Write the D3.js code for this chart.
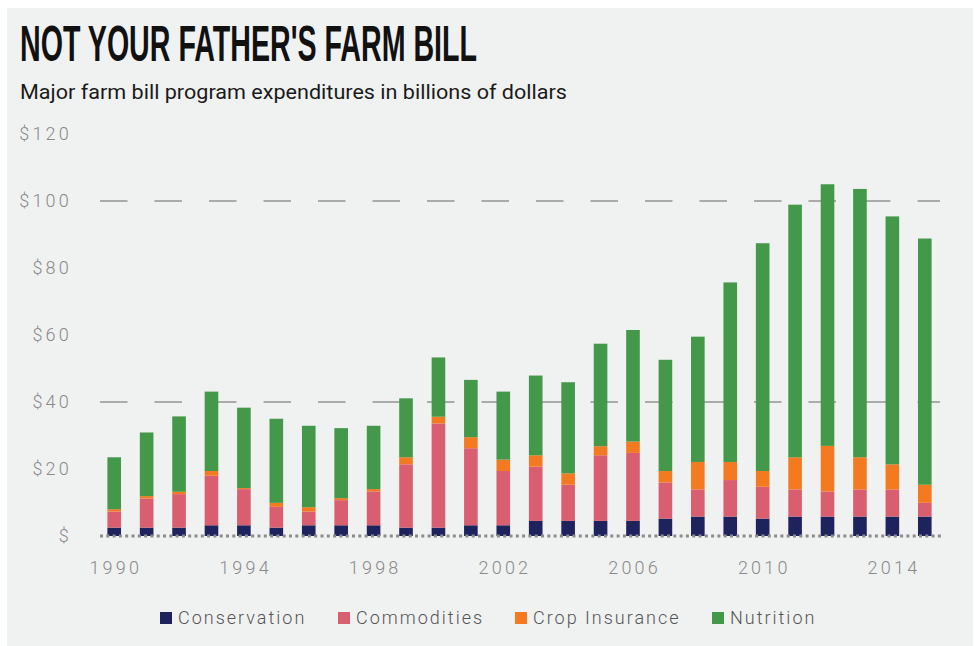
<!DOCTYPE html>
<html>
<head>
<meta charset="utf-8">
<script src="https://cdn.jsdelivr.net/npm/d3@7"></script>
<style>
  html, body { margin: 0; padding: 0; background: #ffffff; }
  svg { display: block; }
</style>
</head>
<body>
<svg id="chart" width="975" height="646"></svg>
<script>
// Farm bill program spending, billions of dollars, by fiscal year
const years = d3.range(1990, 2016);
const conservation  = [2.5, 2.5, 2.5, 3.2, 3.2, 2.5, 3.2, 3.2, 3.2, 2.5, 2.5, 3.2, 3.2, 4.5, 4.5, 4.5, 4.5, 5.2, 5.8, 5.8, 5.2, 5.8, 5.8, 5.8, 5.8, 5.8];
const commodities   = [4.8, 8.7, 10.0, 14.8, 10.8, 6.2, 4.1, 7.5, 10.1, 18.9, 31.1, 23.0, 16.2, 16.2, 10.8, 19.6, 20.3, 10.8, 8.1, 10.9, 9.5, 8.1, 7.5, 8.1, 8.1, 4.1];
const cropInsurance = [0.7, 0.7, 0.7, 1.4, 0.3, 1.2, 1.3, 0.6, 0.7, 2.1, 2.0, 3.3, 3.4, 3.4, 3.4, 2.7, 3.4, 3.4, 8.2, 5.4, 4.7, 9.6, 13.6, 9.6, 7.5, 5.4];
const nutrition     = [15.5, 19.0, 22.5, 23.7, 24.0, 25.1, 24.3, 20.9, 18.9, 17.6, 17.7, 17.1, 20.3, 23.8, 27.2, 30.6, 33.3, 33.2, 37.4, 53.6, 68.0, 75.4, 78.1, 80.1, 74.0, 73.5];

const seriesNames = ["Conservation", "Commodities", "Crop Insurance", "Nutrition"];
const seriesKeys  = ["conservation", "commodities", "cropInsurance", "nutrition"];
const seriesColors = ["#1f235d", "#d95e6f", "#f47a22", "#43984a"];

const yTicks = [0, 20, 40, 60, 80, 100, 120];
const yTickLabels = ["$", "$20", "$40", "$60", "$80", "$100", "$120"];
const gridValues = [40, 100];
const xTickYears = [1990, 1994, 1998, 2002, 2006, 2010, 2014];

const rows = years.map((yr, i) => ({
  year: yr,
  conservation: conservation[i],
  commodities: commodities[i],
  cropInsurance: cropInsurance[i],
  nutrition: nutrition[i]
}));

const svg = d3.select("#chart");
const W = 975, H = 646;

// backdrop panel
svg.append("rect").attr("width", W).attr("height", H).attr("fill", "#ffffff");
svg.append("rect").attr("x", 7).attr("y", 8).attr("width", 966).attr("height", H - 8).attr("fill", "#f0f1f1");

// titles
svg.append("text")
  .attr("x", 20).attr("y", 61)
  .attr("font-family", "'Liberation Sans', Arial, sans-serif")
  .attr("font-weight", "bold")
  .attr("font-size", 50)
  .attr("fill", "#111")
  .attr("textLength", 457)
  .attr("lengthAdjust", "spacingAndGlyphs")
  .text("NOT YOUR FATHER'S FARM BILL");

svg.append("text")
  .attr("x", 20).attr("y", 99)
  .attr("font-family", "Roboto, 'Liberation Sans', sans-serif")
  .attr("font-size", 21)
  .attr("fill", "#1a1a1a")
  .attr("textLength", 547)
  .attr("lengthAdjust", "spacingAndGlyphs")
  .text("Major farm bill program expenditures in billions of dollars");

// scales
const x = d3.scaleBand().domain(years).range([98, 941]).paddingInner(0.58).paddingOuter(0.29);
const y = d3.scaleLinear().domain([0, 120]).range([536, 134]);

const tickFont = sel => sel
  .attr("font-family", "Roboto, sans-serif")
  .attr("font-weight", 300)
  .attr("font-size", 18)
  .attr("letter-spacing", "3.2px")
  .attr("fill", "#8a8a8a");

// gridlines
svg.append("g").selectAll("line")
  .data(gridValues)
  .join("line")
  .attr("x1", 100).attr("x2", 940)
  .attr("y1", d => y(d)).attr("y2", d => y(d))
  .attr("stroke", "#ababab")
  .attr("stroke-width", 2)
  .attr("stroke-dasharray", "27.5,27");

// y axis labels
const yAxis = d3.axisLeft(y)
  .tickValues(yTicks)
  .tickSize(0)
  .tickPadding(0)
  .tickFormat(d => yTickLabels[yTicks.indexOf(d)]);
const gy = svg.append("g").attr("transform", "translate(72,0)").call(yAxis);
gy.select(".domain").remove();
gy.selectAll("text").call(tickFont);

// stacked bars
const stack = d3.stack().keys(seriesKeys);
const layers = stack(rows);

svg.append("g").selectAll("g")
  .data(layers)
  .join("g")
  .attr("fill", (d, i) => seriesColors[i])
  .selectAll("rect")
  .data(d => d)
  .join("rect")
  .attr("x", d => x(d.data.year))
  .attr("width", x.bandwidth())
  .attr("y", d => y(d[1]))
  .attr("height", d => y(d[0]) - y(d[1]));

// dotted baseline
svg.append("line")
  .attr("x1", 100).attr("x2", 941)
  .attr("y1", y(0)).attr("y2", y(0))
  .attr("stroke", "#8c8c8c")
  .attr("stroke-width", 3)
  .attr("stroke-dasharray", "3,3.3");

// x axis labels
const xAxis = d3.axisBottom(x)
  .tickValues(xTickYears)
  .tickSize(0)
  .tickPadding(0);
const gx = svg.append("g").attr("transform", "translate(1.6,561)").call(xAxis);
gx.select(".domain").remove();
gx.selectAll("text").call(tickFont);

// legend
const legendX = [160, 338, 515, 712];
const legend = svg.append("g").selectAll("g")
  .data(seriesNames)
  .join("g")
  .attr("transform", (d, i) => `translate(${legendX[i]},612)`);
legend.append("rect")
  .attr("width", 12).attr("height", 12)
  .attr("fill", (d, i) => seriesColors[i]);
legend.append("text")
  .attr("x", 18).attr("y", 12)
  .attr("font-family", "Roboto, sans-serif")
  .attr("font-weight", 300)
  .attr("font-size", 18)
  .attr("letter-spacing", "2px")
  .attr("fill", "#555")
  .text(d => d);
</script>
</body>
</html>
